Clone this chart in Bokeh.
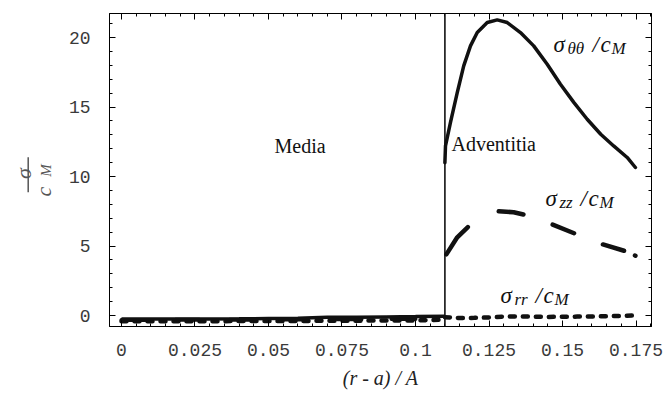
from math import pi
from bokeh.plotting import figure
from bokeh.models import Range1d, FixedTicker, LinearAxis, Span, Label
from bokeh.layouts import row
from bokeh.embed import file_html
from bokeh.resources import INLINE

# ---------------- data ----------------
x_ticks = [0, 0.025, 0.05, 0.075, 0.1, 0.125, 0.15, 0.175]
x_tick_labels = ["0", "0.025", "0.05", "0.075", "0.1", "0.125", "0.15", "0.175"]
x_minor = [i * 0.005 for i in range(-1, 37)]
y_ticks = [0, 5, 10, 15, 20]
y_minor = list(range(-1, 22))

boundary = 0.11

# Media region (0 .. 0.11)
x_media = [0.0, 0.01, 0.02, 0.03, 0.04, 0.05, 0.06, 0.07, 0.08, 0.09, 0.10, 0.11]
tt_media = [-0.26, -0.26, -0.25, -0.25, -0.24, -0.22, -0.20, -0.13, -0.12, -0.10, -0.08, -0.05]
zz_media = [-0.32, -0.32, -0.31, -0.31, -0.30, -0.30, -0.29, -0.28, -0.27, -0.26, -0.25, -0.24]
rr_media = [-0.42, -0.42, -0.41, -0.41, -0.40, -0.40, -0.39, -0.38, -0.37, -0.36, -0.35, -0.30]

# Adventitia region (0.11 .. 0.175)
x_tt = [0.1100, 0.1102, 0.1119, 0.1142, 0.1164, 0.1187, 0.1210, 0.1244, 0.1278,
        0.1312, 0.1357, 0.1402, 0.1448, 0.1493, 0.1539, 0.1584, 0.1630, 0.1674,
        0.1720, 0.1748]
tt_adv = [11.0, 12.2, 13.9, 16.04, 17.96, 19.4, 20.36, 21.08, 21.27,
          21.08, 20.36, 19.4, 18.08, 16.64, 15.32, 14.12, 13.04, 12.2,
          11.37, 10.65]

x_zz = [0.1105, 0.1142, 0.1187, 0.1230, 0.1283, 0.1334, 0.1380, 0.1420,
        0.1459, 0.1544, 0.1590, 0.1630, 0.1714, 0.1748]
zz_adv = [4.4, 5.63, 6.55, 7.1, 7.5, 7.43, 7.2, 6.9,
          6.6, 5.88, 5.5, 5.16, 4.63, 4.3]

x_rr = [0.110, 0.115, 0.120, 0.125, 0.130, 0.135, 0.140, 0.145, 0.150,
        0.155, 0.160, 0.165, 0.170, 0.1748]
rr_adv = [-0.12, -0.18, -0.17, -0.14, -0.08, -0.06, -0.08, -0.1, -0.09,
          -0.08, -0.07, -0.05, -0.03, 0.0]

# ---------------- main figure ----------------
INK = "#111111"
GREY = "#555555"
LEFT_W = 60
H = 394
p = figure(frame_width=542, frame_height=313,
           x_range=Range1d(-0.00408, 0.18027), y_range=Range1d(-0.791, 21.73),
           output_backend="svg", toolbar_location=None,
           min_border_left=109 - LEFT_W, min_border_right=16, min_border_top=13,
           min_border_bottom=68)
p.grid.visible = False
p.outline_line_color = "black"
p.background_fill_color = "white"
p.border_fill_color = "white"

def style_axis(ax, ticks, minor, show_labels):
    ax.ticker = FixedTicker(ticks=ticks, minor_ticks=minor)
    ax.major_tick_in = 6
    ax.major_tick_out = 0
    ax.minor_tick_in = 3
    ax.minor_tick_out = 0
    ax.axis_line_color = "black"
    ax.major_tick_line_color = "black"
    ax.minor_tick_line_color = "black"
    if show_labels:
        ax.major_label_text_font = "Liberation Mono"
        ax.major_label_text_font_size = "18px"
        ax.major_label_text_color = "#3a3a3a"
    else:
        ax.major_label_text_font_size = "0px"
        ax.major_label_standoff = 0

style_axis(p.xaxis[0], x_ticks, x_minor, True)
style_axis(p.yaxis[0], y_ticks, y_minor, True)
p.xaxis[0].major_label_overrides = dict(zip(x_ticks, x_tick_labels))
p.xaxis[0].major_label_standoff = 17
p.yaxis[0].major_label_standoff = 19
p.xaxis[0].axis_label = "(r - a) / A"
p.xaxis[0].axis_label_text_font = "Liberation Serif"
p.xaxis[0].axis_label_text_font_style = "italic"
p.xaxis[0].axis_label_text_font_size = "20px"
p.xaxis[0].axis_label_text_color = "#222222"
p.xaxis[0].axis_label_standoff = 8

top_ax = LinearAxis()
right_ax = LinearAxis()
style_axis(top_ax, x_ticks, x_minor, False)
style_axis(right_ax, y_ticks, y_minor, False)
p.add_layout(top_ax, "above")
p.add_layout(right_ax, "right")

# boundary between media and adventitia
p.add_layout(Span(location=boundary, dimension="height", line_color=INK, line_width=1.6))

# curves
p.line(x_media, rr_media, line_color=INK, line_width=4.5, line_dash="5 8", line_cap="round")
p.line(x_media, zz_media, line_color=INK, line_width=4, line_dash="24 30", line_cap="round")
p.line(x_media, tt_media, line_color=INK, line_width=3.5)

p.line(x_tt, tt_adv, line_color=INK, line_width=3.5, line_cap="round", line_join="round")
p.line(x_zz, zz_adv, line_color=INK, line_width=4.5,
       line_dash="35 35 25 31 23 31 22 12 1 50", line_cap="round", line_join="round")
p.line(x_rr, rr_adv, line_color=INK, line_width=4.5, line_dash="5 8", line_cap="round")

# pixel -> data helpers for annotation placement
def dx(px):
    return (px - 121) / 2940.0

def dy(py):
    return (315 - py) / 13.9

def lab(txt, px, py, size, italic=False, color=INK, xo=0, yo=0):
    p.add_layout(Label(x=dx(px), y=dy(py), x_offset=xo, y_offset=yo, text=txt,
                       text_font="Liberation Serif",
                       text_font_style="italic" if italic else "normal",
                       text_font_size=size, text_color=color,
                       text_align="left", text_baseline="alphabetic"))

lab("Media", 274, 152 - 7, "20px")
lab("Adventitia", 451, 150 - 7, "20px")

def math_label(left, base, sub, sub_w):
    b = base - 8
    lab("σ", left, b, "23px", italic=True)
    lab(sub, left + 14, b, "17px", italic=True, yo=-4)
    lab("/", left + 22 + sub_w, b, "23px", italic=True)
    lab("c", left + 30 + sub_w, b, "23px", italic=True)
    lab("M", left + 41 + sub_w, b, "17px", italic=True, yo=-4)

math_label(553, 52, "θθ", 17)
math_label(545, 206, "zz", 13)
math_label(500, 303, "rr", 13)

# ---------------- y-axis label panel (fraction sigma / c_M, rotated) ----------------
# the row aligns this panel's frame with the main frame (page rows 13..326)
q = figure(width=LEFT_W, height=H, x_range=Range1d(0, LEFT_W), y_range=Range1d(H - 326, H - 13),
           x_axis_type=None, y_axis_type=None,
           output_backend="svg", toolbar_location=None, min_border=0)
q.grid.visible = False
q.outline_line_color = None
q.border_fill_color = "white"
q.background_fill_color = "white"

def qtext(txt, px, py, size):
    q.text(x=[px], y=[H - py], text=[txt], angle=pi / 2, text_align="center",
           text_baseline="middle", text_font="Liberation Serif",
           text_font_style="italic", text_font_size=size, text_color=GREY)

qtext("σ", 22.5, 173, "22px")
q.segment(x0=[27.7], y0=[H - 156.7], x1=[27.7], y1=[H - 191.7],
          line_color=GREY, line_width=1.5)
qtext("c", 43, 191, "22px")
qtext("M", 45, 170, "15px")

layout = row(q, p)
open("out.html", "w").write(file_html(layout, INLINE))
